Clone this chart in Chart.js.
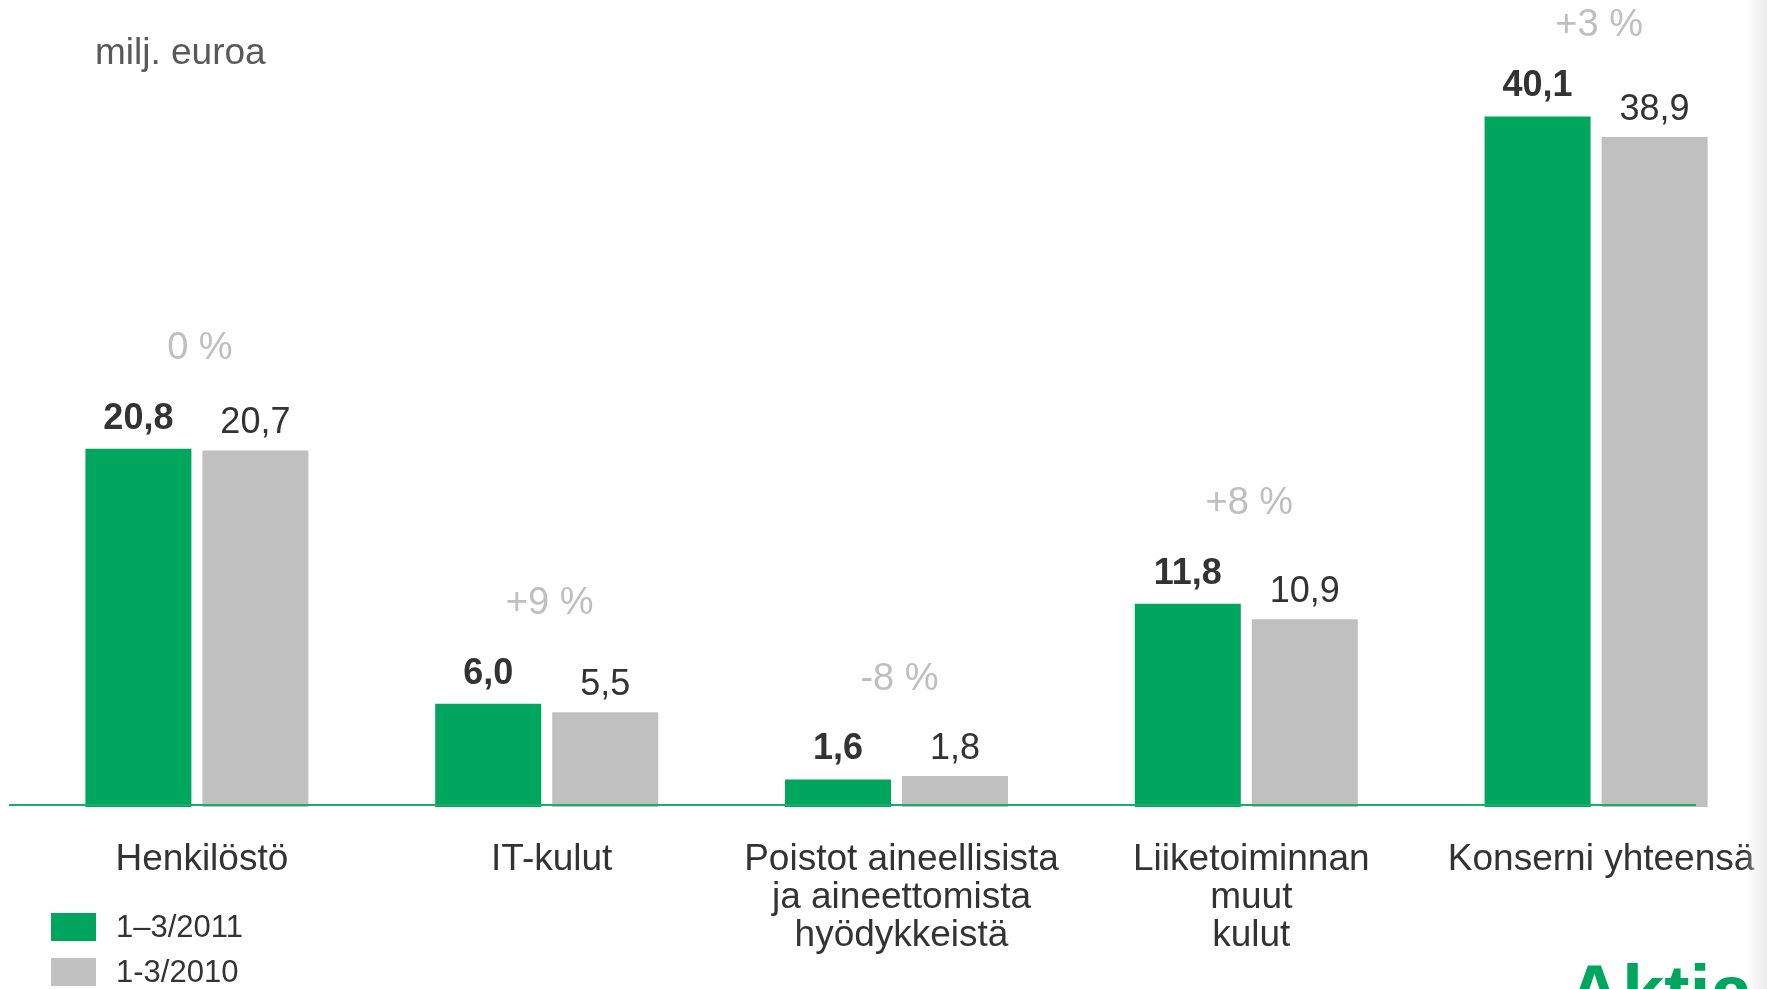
<!DOCTYPE html>
<html>
<head>
<meta charset="utf-8">
<script src="https://cdn.jsdelivr.net/npm/chart.js@4"></script>
<style>
  html, body { margin: 0; padding: 0; background: #fff; overflow: hidden; }
  #wrap { position: relative; width: 1767px; height: 989px; overflow: hidden; }
  #shade { position: absolute; top: 0; right: 0; width: 22px; height: 989px;
           background: linear-gradient(to right, rgba(240,240,240,0), #ececec); }
</style>
</head>
<body>
<div id="wrap">
  <canvas id="chart" width="1772" height="989"></canvas>
  <div id="shade"></div>
</div>
<script>
// Kulut 1-3/2011 vs 1-3/2010, milj. euroa
const categories = [
    ['Henkilöstö'],
    ['IT-kulut'],
    ['Poistot aineellisista', 'ja aineettomista', 'hyödykkeistä'],
    ['Liiketoiminnan', 'muut', 'kulut'],
    ['Konserni yhteensä']
];
const values2011 = [20.8, 6.0, 1.6, 11.8, 40.1];
const values2010 = [20.7, 5.5, 1.8, 10.9, 38.9];
const changes = ['0 %', '+9 %', '-8 %', '+8 %', '+3 %'];
const seriesNames = ['1–3/2011', '1-3/2010'];

const GREEN = '#00a65d';
const GREY = '#c0c0c0';
const FONT = '"Liberation Sans", Arial, sans-serif';

const fmt = v => v.toFixed(1).replace('.', ',');

const annotate = {
    id: 'annotate',
    afterDatasetsDraw(chart) {
        const ctx = chart.ctx;
        const xs = chart.scales.x, ys = chart.scales.y;
        const base = ys.getPixelForValue(0);
        ctx.save();

        // baseline
        ctx.strokeStyle = '#1aad69';
        ctx.lineWidth = 2;
        ctx.beginPath();
        ctx.moveTo(9, base - 2);
        ctx.lineTo(1696, base - 2);
        ctx.stroke();

        ctx.textAlign = 'center';
        ctx.textBaseline = 'middle';

        // values above bars (bold for current period)
        chart.data.datasets.forEach((ds, di) => {
            ctx.font = (di === 0 ? 'bold ' : '') + '36px ' + FONT;
            ctx.fillStyle = '#333';
            const lift = di === 0 ? 30 : 27;
            chart.getDatasetMeta(di).data.forEach((bar, i) => {
                ctx.fillText(fmt(ds.data[i]), bar.x, bar.y - lift);
            });
        });

        // change percentages
        const green = chart.getDatasetMeta(0).data;
        ctx.font = '38px ' + FONT;
        ctx.fillStyle = '#bfbfbf';
        changes.forEach((t, i) => {
            ctx.fillText(t, xs.getPixelForValue(i) + 3, Math.max(26, green[i].y - 100));
        });

        // category labels
        ctx.font = '37px ' + FONT;
        ctx.fillStyle = '#333';
        categories.forEach((lines, i) => {
            lines.forEach((l, k) => ctx.fillText(l, xs.getPixelForValue(i) + 5, base + 53 + k * 37.8));
        });

        // unit
        ctx.textAlign = 'left';
        ctx.font = '37px ' + FONT;
        ctx.fillStyle = '#595959';
        ctx.fillText('milj. euroa', 95, 54);

        // legend
        ctx.font = '31px ' + FONT;
        chart.data.datasets.forEach((ds, di) => {
            const top = 913 + di * 45;
            ctx.fillStyle = ds.backgroundColor;
            ctx.fillRect(51, top, 45, 28);
            ctx.fillStyle = '#333';
            ctx.fillText(ds.label, 116, top + 15);
        });

        // logo
        ctx.textBaseline = 'alphabetic';
        ctx.font = 'bold 76px ' + FONT;
        ctx.fillStyle = GREEN;
        ctx.fillText('Aktia', 1567, 1018);

        ctx.restore();
    }
};

new Chart(document.getElementById('chart'), {
    type: 'bar',
    data: {
        labels: categories,
        datasets: [
            { label: seriesNames[0], data: values2011, backgroundColor: GREEN },
            { label: seriesNames[1], data: values2010, backgroundColor: GREY }
        ]
    },
    options: {
        responsive: false,
        animation: false,
        layout: { padding: { left: 22, right: 1, top: 32, bottom: 182 } },
        datasets: { bar: { barPercentage: 0.906, categoryPercentage: 0.669 } },
        scales: {
            x: { display: false },
            y: { display: false, min: 0, max: 45 }
        },
        plugins: {
            legend: { display: false },
            tooltip: { enabled: false }
        }
    },
    plugins: [annotate]
});
</script>
</body>
</html>
